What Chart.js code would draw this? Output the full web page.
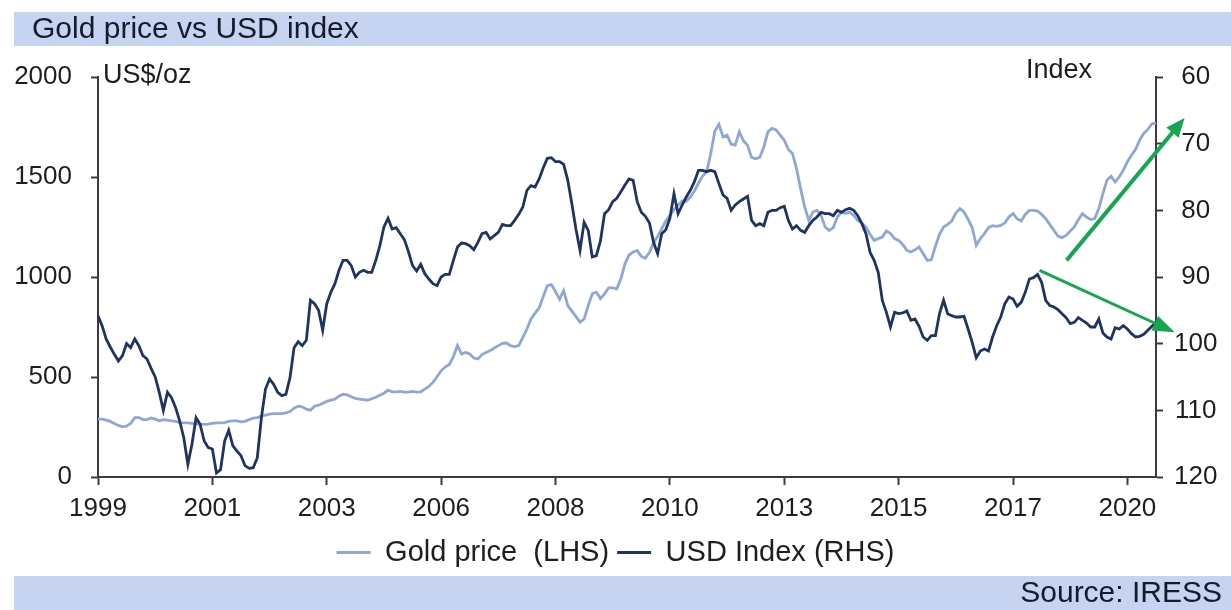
<!DOCTYPE html>
<html><head><meta charset="utf-8">
<script src="https://cdn.jsdelivr.net/npm/chart.js@4.4.0/dist/chart.umd.min.js"></script>
<style>html,body{margin:0;padding:0;background:#fff;}#wrap{width:1231px;height:610px;}</style>
</head><body><div id="wrap"><canvas id="c" width="1231" height="610"></canvas></div>
<script>
const titleText = 'Gold price vs USD index';
const sourceText = 'Source: IRESS';
const leftUnit = 'US$/oz';
const rightUnit = 'Index';
const tickLabels = ['1999','2001','2003','2006','2008','2010','2013','2015','2017','2020'];
const seriesNames = ['Gold price  (LHS)', 'USD Index (RHS)'];

const goldPrice = [289,289,284,278,268,258,251,255,268,297,297,287,287,295,289,281,287,284,281,278,272,271,271,268,264,264,263,264,268,271,271,272,278,281,281,276,278,287,294,297,304,309,314,317,317,317,321,327,344,354,351,339,334,354,359,368,378,384,389,404,414,411,401,393,389,387,384,391,399,409,419,434,426,426,428,424,424,428,424,426,439,453,473,501,531,550,563,602,657,615,623,615,595,590,612,623,632,645,657,668,670,657,652,657,698,740,790,819,846,902,957,962,927,889,932,857,829,802,774,790,857,916,924,892,916,946,946,941,991,1066,1110,1125,1133,1103,1094,1123,1170,1203,1242,1280,1308,1337,1359,1380,1379,1400,1430,1470,1505,1525,1618,1729,1763,1701,1709,1664,1659,1726,1681,1659,1598,1591,1598,1651,1726,1743,1735,1709,1684,1638,1618,1542,1442,1350,1283,1325,1333,1308,1250,1233,1247,1300,1325,1317,1325,1308,1283,1270,1250,1213,1183,1192,1200,1230,1217,1192,1183,1163,1133,1125,1136,1150,1117,1083,1086,1153,1213,1250,1263,1280,1320,1342,1325,1288,1247,1158,1192,1217,1247,1257,1253,1258,1270,1300,1317,1292,1280,1313,1333,1333,1330,1313,1292,1263,1233,1205,1197,1208,1230,1250,1287,1317,1300,1287,1292,1342,1417,1484,1504,1475,1500,1534,1576,1609,1638,1684,1718,1738,1765,1771];

const usdIndex = [95.8,97.3,99.3,100.5,101.6,102.6,101.8,100.0,100.6,99.3,100.3,101.8,102.3,103.7,105.0,107.3,110.0,107.3,108.1,109.6,111.6,114.1,118.1,115.1,111.1,112.1,114.6,115.6,115.8,119.4,118.9,114.6,113.0,115.3,116.1,116.8,118.3,118.7,118.6,117.1,111.1,106.8,105.3,106.1,107.3,107.8,107.6,105.1,100.6,99.7,100.3,99.5,93.5,94.0,95.0,98.0,94.0,92.3,91.0,89.0,87.5,87.5,88.3,90.0,89.3,89.0,89.3,89.3,87.5,85.3,82.5,81.2,82.8,82.6,83.5,84.4,86.2,88.3,89.1,88.1,89.5,90.3,91.0,91.3,90.0,89.6,89.6,87.5,85.5,84.9,85.0,85.3,85.9,84.8,83.5,83.3,84.3,83.8,83.3,82.1,82.3,82.3,81.5,80.6,79.5,77.0,76.3,76.5,75.3,73.6,72.2,72.1,72.7,72.7,73.1,75.5,79.0,82.8,86.0,81.8,83.0,87.0,86.8,84.6,80.5,79.9,78.7,78.2,77.2,76.2,75.3,75.5,78.7,80.3,80.9,81.9,84.8,86.5,83.5,82.9,81.2,77.5,80.5,79.2,78.0,77.0,75.7,74.0,74.0,74.2,74.0,74.2,76.0,77.7,78.2,80.0,79.2,78.7,78.3,77.9,81.5,82.3,82.0,82.3,80.3,80.0,80.0,79.6,79.4,81.5,82.8,82.3,83.0,83.3,82.3,81.5,81.0,80.3,80.5,80.5,80.8,80.0,80.3,79.9,79.7,80.0,80.8,82.0,83.5,86.3,87.5,89.3,93.5,95.3,97.5,95.3,95.5,95.4,95.1,96.5,96.3,97.4,99.0,99.5,98.8,98.8,95.5,93.5,95.5,95.8,96.0,96.0,95.9,97.8,99.8,102.1,101.1,100.8,101.1,99.0,97.3,96.0,94.0,93.0,93.3,94.4,93.8,92.3,90.3,90.1,89.6,90.8,93.5,94.3,94.5,94.9,95.5,96.1,97.0,96.8,96.1,96.5,96.9,97.5,97.5,96.3,98.4,99.0,99.3,97.6,97.8,97.3,97.8,98.5,99.0,98.9,98.6,98.0,97.4,96.8];

// annotation arrows, in data space: [month index, value]
const goldArrow = [[237.1, 1083], [266.0, 1795]];
const usdArrow = [[230.5, 89.0], [263.6, 98.3]];

const monthsPerTick = 28;
const categories = goldPrice.map((_, i) => (1999 + Math.floor(i / 12)) + '-' + String(i % 12 + 1).padStart(2, '0'));

const FONT = '"Liberation Sans", Arial, sans-serif';
Chart.defaults.font.family = FONT;
Chart.defaults.color = '#1e1e1e';

const goldColor = '#8fa7d6';
const usdColor = '#1f3460';
const axisColor = '#3c3c3c';
const bandColor = '#c6d3f1';
const arrowColor = '#16a650';

function drawArrow(ctx, x1, y1, x2, y2, lw, headLen, headHalf) {
  const dx = x2 - x1, dy = y2 - y1, L = Math.hypot(dx, dy);
  const ux = dx / L, uy = dy / L;
  const bx = x2 - ux * headLen, by = y2 - uy * headLen;
  ctx.strokeStyle = arrowColor; ctx.fillStyle = arrowColor;
  ctx.lineWidth = lw; ctx.lineCap = 'butt';
  ctx.beginPath(); ctx.moveTo(x1, y1); ctx.lineTo(bx + ux * 2, by + uy * 2); ctx.stroke();
  ctx.beginPath();
  ctx.moveTo(x2, y2);
  ctx.lineTo(bx - uy * headHalf, by + ux * headHalf);
  ctx.lineTo(bx + uy * headHalf, by - ux * headHalf);
  ctx.closePath(); ctx.fill();
}

const decor = {
  id: 'decor',
  beforeDraw(chart) {
    const ctx = chart.ctx, W = chart.width, H = chart.height, ca = chart.chartArea;
    ctx.save();
    ctx.fillStyle = '#ffffff'; ctx.fillRect(0, 0, W, H);
    ctx.fillStyle = bandColor;
    ctx.fillRect(14, 12, W - 14, 34);
    ctx.fillRect(14, 576, W - 14, 34);
    ctx.fillStyle = '#161a2a';
    ctx.textBaseline = 'middle';
    ctx.font = '30px ' + FONT;
    ctx.textAlign = 'left';
    ctx.fillText(titleText, 32, 30);
    ctx.textAlign = 'right';
    ctx.fillText(sourceText, W - 9, 594);
    ctx.fillStyle = '#1e1e1e';
    ctx.font = '27px ' + FONT;
    ctx.textAlign = 'left';
    ctx.fillText(leftUnit, ca.left + 5, ca.top - 1);
    ctx.textAlign = 'right';
    ctx.fillText(rightUnit, ca.right - 64, ca.top - 6);
    ctx.restore();
  },
  afterDraw(chart) {
    const ctx = chart.ctx, x = chart.scales.x, yL = chart.scales.yL, yR = chart.scales.yR;
    ctx.save();
    drawArrow(ctx, x.getPixelForValue(goldArrow[0][0]), yL.getPixelForValue(goldArrow[0][1]),
      x.getPixelForValue(goldArrow[1][0]), yL.getPixelForValue(goldArrow[1][1]), 4, 19, 8);
    drawArrow(ctx, x.getPixelForValue(usdArrow[0][0]), yR.getPixelForValue(usdArrow[0][1]),
      x.getPixelForValue(usdArrow[1][0]), yR.getPixelForValue(usdArrow[1][1]), 3, 22, 8);
    ctx.restore();
  }
};

new Chart(document.getElementById('c'), {
  type: 'line',
  data: {
    labels: categories,
    datasets: [
      { label: seriesNames[0], data: goldPrice, yAxisID: 'yL', borderColor: goldColor, backgroundColor: goldColor,
        borderWidth: 2.8, pointRadius: 0, tension: 0, order: 2 },
      { label: seriesNames[1], data: usdIndex, yAxisID: 'yR', borderColor: usdColor, backgroundColor: usdColor,
        borderWidth: 2.8, pointRadius: 0, tension: 0, order: 1 }
    ]
  },
  options: {
    responsive: false, animation: false, devicePixelRatio: 1,
    layout: { padding: { top: 77, left: 0, right: 0, bottom: 33 } },
    plugins: {
      tooltip: { enabled: false },
      legend: {
        position: 'bottom', align: 'center',
        labels: {
          font: { size: 29, family: FONT }, color: '#1e1e1e', boxWidth: 34, boxHeight: 3, padding: 8,
          generateLabels(chart) {
            return chart.data.datasets.map((d, i) => ({ text: d.label, fillStyle: d.borderColor, strokeStyle: d.borderColor,
              lineWidth: 0, hidden: false, datasetIndex: i, fontColor: '#1e1e1e' }));
          }
        }
      }
    },
    scales: {
      x: {
        type: 'category', offset: false,
        afterFit(s) { s.height = 53; },
        afterBuildTicks(s) { s.ticks = s.ticks.filter(t => t.value % monthsPerTick === 0); },
        grid: { drawOnChartArea: false, drawTicks: true, tickLength: 8, tickColor: axisColor, tickWidth: 2 },
        border: { display: true, color: axisColor, width: 2 },
        ticks: { autoSkip: false, maxRotation: 0, minRotation: 0, padding: 8, font: { size: 26 }, color: '#1e1e1e',
          callback(value) { return tickLabels[value / monthsPerTick]; } }
      },
      yL: {
        position: 'left', min: 0, max: 2000,
        afterFit(s) { s.width = 98; },
        grid: { drawOnChartArea: false, drawTicks: true, tickLength: 7, tickColor: axisColor, tickWidth: 2 },
        border: { display: true, color: axisColor, width: 2 },
        ticks: { stepSize: 500, padding: 19, font: { size: 26 }, color: '#1e1e1e', callback(v) { return String(v); } }
      },
      yR: {
        position: 'right', min: 60, max: 120, reverse: true,
        afterFit(s) { s.width = 75; },
        grid: { drawOnChartArea: false, drawTicks: true, tickLength: 7, tickColor: axisColor, tickWidth: 2 },
        border: { display: true, color: axisColor, width: 2 },
        ticks: { stepSize: 10, padding: 11, crossAlign: 'center', font: { size: 26 }, color: '#1e1e1e', callback(v) { return String(v); } }
      }
    }
  },
  plugins: [decor]
});
</script></body></html>
